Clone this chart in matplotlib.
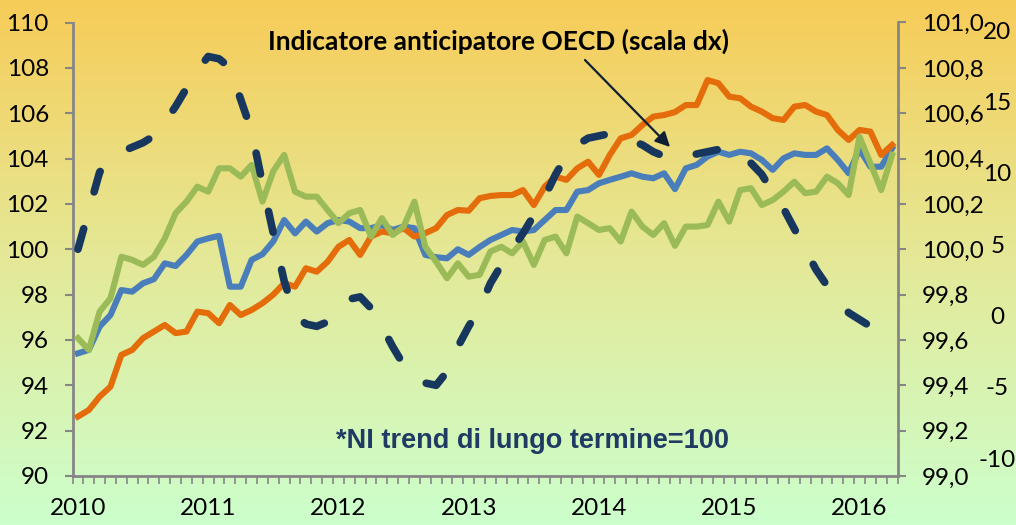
import numpy as np
import matplotlib
matplotlib.use("Agg")
import matplotlib.pyplot as plt
from matplotlib.ticker import FixedLocator, FuncFormatter

plt.rcParams["axes.unicode_minus"] = False

# monthly data, Jan 2010 - Apr 2016
years = ["2010", "2011", "2012", "2013", "2014", "2015", "2016"]

blue = [95.41, 95.56, 96.59, 97.10, 98.20, 98.13, 98.50, 98.68, 99.38, 99.26,
        99.75, 100.34, 100.48, 100.59, 98.35, 98.35, 99.53, 99.78, 100.35, 101.29,
        100.70, 101.22, 100.78, 101.15, 101.29, 101.22, 100.93, 100.93, 101.07, 100.85,
        101.00, 100.93, 99.75, 99.65, 99.60, 100.00, 99.75, 100.10, 100.41, 100.63,
        100.85, 100.78, 100.85, 101.29, 101.73, 101.73, 102.54, 102.61, 102.91, 103.06,
        103.20, 103.35, 103.20, 103.13, 103.35, 102.65, 103.57, 103.72, 104.09, 104.30,
        104.16, 104.30, 104.23, 103.94, 103.50, 104.01, 104.23, 104.16, 104.16, 104.45,
        103.94, 103.35, 104.40, 103.64, 103.64, 104.45]

orange = [92.62, 92.91, 93.50, 93.94, 95.34, 95.56, 96.08, 96.37, 96.66, 96.30,
          96.37, 97.25, 97.18, 96.74, 97.54, 97.10, 97.32, 97.62, 98.00, 98.50,
          98.35, 99.16, 99.01, 99.45, 100.11, 100.41, 99.75, 100.56, 100.78, 100.71,
          100.93, 100.56, 100.71, 100.93, 101.51, 101.73, 101.70, 102.25, 102.35, 102.39,
          102.39, 102.61, 101.95, 102.76, 103.20, 103.06, 103.57, 103.86, 103.28, 104.16,
          104.89, 105.04, 105.48, 105.85, 105.92, 106.05, 106.36, 106.36, 107.46, 107.32,
          106.73, 106.66, 106.29, 106.07, 105.78, 105.70, 106.29, 106.36, 106.07, 105.92,
          105.26, 104.82, 105.26, 105.19, 104.16, 104.60]

green = [96.08, 95.56, 97.25, 97.84, 99.67, 99.53, 99.31, 99.67, 100.48, 101.59,
         102.10, 102.76, 102.54, 103.57, 103.57, 103.20, 103.72, 102.10, 103.45, 104.16,
         102.54, 102.32, 102.32, 101.73, 101.15, 101.59, 101.73, 100.56, 101.37, 100.63,
         101.00, 102.10, 100.11, 99.45, 98.72, 99.38, 98.79, 98.87, 99.90, 100.11,
         99.82, 100.34, 99.31, 100.41, 100.56, 99.82, 101.44, 101.15, 100.85, 100.93,
         100.34, 101.66, 101.00, 100.63, 101.15, 100.15, 101.00, 101.00, 101.07, 102.10,
         101.22, 102.61, 102.69, 101.95, 102.17, 102.54, 102.98, 102.47, 102.54, 103.20,
         102.91, 102.39, 104.96, 103.79, 102.61, 104.16]

# OECD leading indicator (right scale), Jan 2010 - Feb 2016
oecd = [100.00, 100.17, 100.34, 100.40, 100.43, 100.45, 100.47, 100.50, 100.56, 100.63,
        100.71, 100.79, 100.85, 100.84, 100.80, 100.66, 100.52, 100.29, 100.07, 99.86,
        99.71, 99.67, 99.66, 99.68, 99.74, 99.78, 99.79, 99.74, 99.66, 99.57,
        99.49, 99.43, 99.41, 99.40, 99.46, 99.57, 99.66, 99.74, 99.85, 99.93,
        100.00, 100.07, 100.15, 100.23, 100.33, 100.41, 100.46, 100.49, 100.50, 100.51,
        100.50, 100.48, 100.46, 100.43, 100.41, 100.40, 100.41, 100.42, 100.43, 100.44,
        100.44, 100.42, 100.38, 100.33, 100.25, 100.18, 100.09, 100.00, 99.91, 99.84,
        99.78, 99.72, 99.69, 99.66]

W, H = 1016, 525
fig = plt.figure(figsize=(W / 100, H / 100), dpi=100)

# background gradient
bg = fig.add_axes([0, 0, 1, 1], zorder=-10)
top = np.array([247, 204, 88]) / 255
mid = np.array([228, 233, 152]) / 255
bot = np.array([204, 255, 204]) / 255
t = np.linspace(0, 1, 300)[:, None]
grad = np.where(t < 0.5, top + (mid - top) * (t / 0.5), mid + (bot - mid) * ((t - 0.5) / 0.5))
bg.imshow(grad[:, None, :], aspect="auto", extent=[0, 1, 0, 1])
bg.axis("off")

L, R, T, B = 72.5, 897.5, 22.5, 476
ax = fig.add_axes([L / W, 1 - B / H, (R - L) / W, (B - T) / H])
ax.set_facecolor("none")

fam = ["Lato", "DejaVu Sans"]
fs = 17.5
gray = "#868686"

x = np.arange(len(blue))
ax.plot(x, blue, color="#4A7EBB", lw=4.4, solid_joinstyle="round", zorder=2)
ax.plot(x, orange, color="#E46C0A", lw=4.4, solid_joinstyle="round", zorder=3)
ax.plot(x, green, color="#9BBB59", lw=4.4, solid_joinstyle="round", zorder=4)

ax.set_xlim(-0.5, 75.5)
ax.set_ylim(90, 110)
ax.set_yticks(np.arange(90, 111, 2))
ax.xaxis.set_major_locator(FixedLocator(np.arange(0, 73, 12)))
ax.set_xticklabels(years)
ax.xaxis.set_minor_locator(FixedLocator(np.arange(-0.5, 76, 1)))
ax.tick_params(axis="x", which="major", length=0, pad=16)
ax.tick_params(axis="x", which="minor", length=6, width=1.2, color=gray, direction="out")
ax.tick_params(axis="y", length=6, width=1.5, color=gray, pad=11)
for lab in ax.get_xticklabels() + ax.get_yticklabels():
    lab.set_fontfamily(fam)
    lab.set_fontsize(fs)
for s in ["top", "right"]:
    ax.spines[s].set_visible(False)
for s in ["left", "bottom"]:
    ax.spines[s].set_color(gray)
    ax.spines[s].set_linewidth(2)

# right scale: OECD indicator
ax2 = ax.twinx()
ax2.set_facecolor("none")
ax2.plot(np.arange(len(oecd)), oecd, color="#17375E", lw=5.5,
         dashes=(2.8, 5.0), dash_capstyle="round", zorder=5)
ax2.set_ylim(99.0, 101.0)
ax2.set_yticks(np.arange(99.0, 101.01, 0.2))
ax2.yaxis.set_major_formatter(FuncFormatter(lambda v, p: f"{v:.1f}".replace(".", ",")))
ax2.tick_params(axis="y", length=6, width=1.5, color=gray, pad=11.5)
for lab in ax2.get_yticklabels():
    lab.set_fontfamily(fam)
    lab.set_fontsize(fs)
for s in ["top", "left", "bottom"]:
    ax2.spines[s].set_visible(False)
ax2.spines["right"].set_color(gray)
ax2.spines["right"].set_linewidth(2)

# third scale (labels only)
ax3 = ax.twinx()
ax3.set_facecolor("none")
ax3.set_ylim(-11.26, 20.53)
ax3.set_yticks(np.arange(-10, 21, 5))
ax3.tick_params(axis="y", length=0, pad=72)
for lab in ax3.get_yticklabels():
    lab.set_fontfamily(fam)
    lab.set_fontsize(fs)
    lab.set_horizontalalignment("center")
for s in ax3.spines.values():
    s.set_visible(False)

fig.text(498 / W, 1 - 41 / H, "Indicatore anticipatore OECD (scala dx)",
         ha="center", va="center", fontsize=19, fontweight="bold",
         family=fam, color="black")
fig.text(533 / W, 1 - 441 / H, "*NI trend di lungo termine=100",
         ha="center", va="center", fontsize=19.5, fontweight="bold",
         family=["Liberation Sans", "DejaVu Sans"], color="#1F3A63")
fig.add_artist(matplotlib.patches.FancyArrowPatch(
    (583 / W, 1 - 58 / H), (672 / W, 1 - 149 / H), transform=fig.transFigure,
    arrowstyle="-|>", mutation_scale=22, lw=1.6, color="#0F1F33"))

fig.savefig("out.png", dpi=100)
